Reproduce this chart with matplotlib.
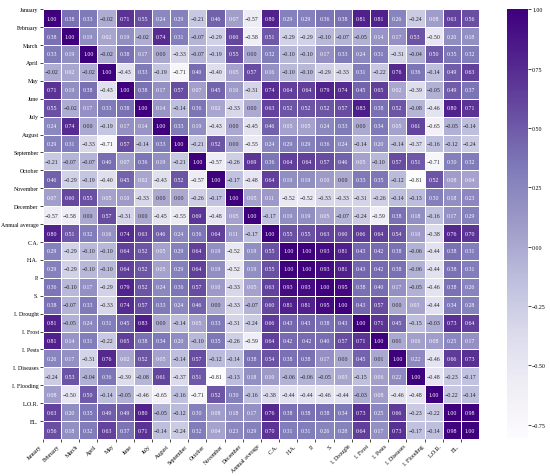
import numpy as np
import matplotlib
matplotlib.use("Agg")
import matplotlib.pyplot as plt
import seaborn as sns

# variable names (rows and columns)
labels = ["January", "February", "March", "April", "May", "June", "July",
          "August", "September", "October", "November", "December",
          "Annual average", "C.A.", "H.A.", "P.", "S.", "I. Drought",
          "I. Frost", "I. Pests", "I. Diseases", "I. Flooding", "L.O.R.", "EL."]

# correlation matrix, one list per row
corr_rows = [
    [1.00, 0.38, 0.33, -0.02, 0.71, 0.55, 0.24, 0.29, -0.21, 0.46, 0.07, -0.57, 0.80, 0.29, 0.29, 0.36, 0.38, 0.81, 0.81, 0.26, -0.24, 0.08, 0.63, 0.56],
    [0.38, 1.00, 0.19, 0.02, 0.19, -0.02, 0.74, 0.31, -0.07, -0.29, 0.60, -0.58, 0.51, -0.29, -0.29, -0.10, -0.07, -0.05, 0.14, 0.17, 0.53, -0.50, 0.20, 0.18],
    [0.33, 0.19, 1.00, -0.02, 0.38, 0.17, 0.00, -0.33, -0.07, -0.19, 0.55, 0.00, 0.32, -0.10, -0.10, 0.17, 0.33, 0.24, 0.31, -0.31, -0.04, 0.50, 0.35, 0.32],
    [-0.02, 0.02, -0.02, 1.00, -0.43, 0.33, -0.19, -0.71, 0.40, -0.40, 0.05, 0.57, 0.16, -0.10, -0.10, -0.29, -0.33, 0.31, -0.22, 0.76, 0.36, -0.14, 0.49, 0.63],
    [0.71, 0.19, 0.38, -0.43, 1.00, 0.38, 0.17, 0.57, 0.07, 0.45, 0.10, -0.31, 0.74, 0.64, 0.64, 0.79, 0.74, 0.45, 0.65, 0.02, -0.39, -0.05, 0.49, 0.37],
    [0.55, -0.02, 0.17, 0.33, 0.38, 1.00, 0.14, -0.14, 0.36, 0.02, -0.33, 0.00, 0.63, 0.52, 0.52, 0.52, 0.57, 0.83, 0.38, 0.52, -0.08, -0.46, 0.80, 0.71],
    [0.24, 0.74, 0.00, -0.19, 0.17, 0.14, 1.00, 0.33, 0.19, -0.43, 0.00, -0.45, 0.46, 0.05, 0.05, 0.24, 0.33, 0.00, 0.34, 0.05, 0.61, -0.65, -0.05, -0.14],
    [0.29, 0.31, -0.33, -0.71, 0.57, -0.14, 0.33, 1.00, -0.21, 0.52, 0.00, -0.55, 0.24, 0.29, 0.29, 0.36, 0.24, -0.14, 0.20, -0.14, -0.37, -0.16, -0.12, -0.24],
    [-0.21, -0.07, -0.07, 0.40, 0.07, 0.36, 0.19, -0.21, 1.00, -0.57, -0.26, 0.69, 0.36, 0.64, 0.64, 0.57, 0.46, 0.05, -0.10, 0.57, 0.51, -0.71, 0.30, 0.32],
    [0.46, -0.29, -0.19, -0.40, 0.45, 0.02, -0.43, 0.52, -0.57, 1.00, -0.17, -0.48, 0.64, 0.19, 0.19, 0.10, 0.00, 0.33, 0.35, -0.12, -0.81, 0.52, 0.08, 0.04],
    [0.07, 0.60, 0.55, 0.05, 0.10, -0.33, 0.00, 0.00, -0.26, -0.17, 1.00, 0.05, 0.11, -0.52, -0.52, -0.33, -0.33, -0.31, -0.26, -0.14, -0.13, 0.30, 0.18, 0.23],
    [-0.57, -0.58, 0.00, 0.57, -0.31, 0.00, -0.45, -0.55, 0.69, -0.48, 0.05, 1.00, -0.17, 0.19, 0.19, 0.05, -0.07, -0.24, -0.59, 0.38, 0.18, -0.16, 0.17, 0.29],
    [0.80, 0.51, 0.32, 0.16, 0.74, 0.63, 0.46, 0.24, 0.36, 0.64, 0.11, -0.17, 1.00, 0.55, 0.55, 0.63, 0.60, 0.66, 0.64, 0.54, 0.10, -0.38, 0.76, 0.70],
    [0.29, -0.29, -0.10, -0.10, 0.64, 0.52, 0.05, 0.29, 0.64, 0.19, -0.52, 0.19, 0.55, 1.00, 1.00, 0.93, 0.81, 0.43, 0.42, 0.38, -0.06, -0.44, 0.38, 0.31],
    [0.29, -0.29, -0.10, -0.10, 0.64, 0.52, 0.05, 0.29, 0.64, 0.19, -0.52, 0.19, 0.55, 1.00, 1.00, 0.93, 0.81, 0.43, 0.42, 0.38, -0.06, -0.44, 0.38, 0.31],
    [0.36, -0.10, 0.17, -0.29, 0.79, 0.52, 0.24, 0.36, 0.57, 0.10, -0.33, 0.05, 0.63, 0.93, 0.93, 1.00, 0.95, 0.38, 0.40, 0.17, -0.05, -0.46, 0.38, 0.26],
    [0.38, -0.07, 0.33, -0.33, 0.74, 0.57, 0.33, 0.24, 0.46, 0.00, -0.33, -0.07, 0.60, 0.81, 0.81, 0.95, 1.00, 0.43, 0.57, 0.00, 0.03, -0.44, 0.34, 0.28],
    [0.81, -0.05, 0.24, 0.31, 0.45, 0.83, 0.00, -0.14, 0.05, 0.33, -0.31, -0.24, 0.66, 0.43, 0.43, 0.38, 0.43, 1.00, 0.71, 0.45, -0.15, -0.03, 0.73, 0.64],
    [0.81, 0.14, 0.31, -0.22, 0.65, 0.38, 0.34, 0.20, -0.10, 0.35, -0.26, -0.59, 0.64, 0.42, 0.42, 0.40, 0.57, 0.71, 1.00, 0.01, 0.06, 0.08, 0.25, 0.17],
    [0.26, 0.17, -0.31, 0.76, 0.02, 0.52, 0.05, -0.14, 0.57, -0.12, -0.14, 0.38, 0.54, 0.38, 0.38, 0.17, 0.00, 0.45, 0.01, 1.00, 0.22, -0.46, 0.66, 0.73],
    [-0.24, 0.53, -0.04, 0.36, -0.39, -0.08, 0.61, -0.37, 0.51, -0.81, -0.13, 0.18, 0.10, -0.06, -0.06, -0.05, 0.03, -0.15, 0.06, 0.22, 1.00, -0.48, -0.23, -0.17],
    [0.08, -0.50, 0.50, -0.14, -0.05, -0.46, -0.65, -0.16, -0.71, 0.52, 0.30, -0.16, -0.38, -0.44, -0.44, -0.46, -0.44, -0.03, 0.08, -0.46, -0.48, 1.00, -0.22, -0.14],
    [0.63, 0.20, 0.35, 0.49, 0.49, 0.80, -0.05, -0.12, 0.30, 0.08, 0.18, 0.17, 0.76, 0.38, 0.38, 0.38, 0.34, 0.73, 0.25, 0.66, -0.23, -0.22, 1.00, 0.98],
    [0.56, 0.18, 0.32, 0.63, 0.37, 0.71, -0.14, -0.24, 0.32, 0.04, 0.23, 0.29, 0.70, 0.31, 0.31, 0.26, 0.28, 0.64, 0.17, 0.73, -0.17, -0.14, 0.98, 1.00],
]

corr = np.array(corr_rows)
n = len(labels)

plt.rcParams['font.family'] = ['Liberation Serif', 'DejaVu Serif']

# text for each cell, with a real minus sign
annot = np.array([[f"{v:.2f}".replace("-", "\u2212") for v in row] for row in corr])

fig = plt.figure(figsize=(5.5, 4.77), dpi=100)
ax = fig.add_axes([0.078, 0.0776, 0.793, 0.901])
cax = fig.add_axes([0.922, 0.0776, 0.038, 0.901])

sns.heatmap(corr, ax=ax, cbar_ax=cax, cmap="Purples", annot=annot, fmt="",
            annot_kws={"size": 4.2}, linewidths=0.5, linecolor="white")

# labels sit on the cell edges, as in the original
ax.set_xticks(np.arange(n))
ax.set_xticklabels(labels, rotation=45, ha="right", fontsize=4.2)
ax.set_yticks(np.arange(n))
ax.set_yticklabels(labels, rotation=0, fontsize=4.2)
ax.tick_params(length=2, width=0.5, pad=1)

cax.set_yticks([-0.75, -0.5, -0.25, 0, 0.25, 0.5, 0.75, 1.0])
cax.set_yticklabels([f"{t:.2f}".replace("-", "\u2212") for t in [-0.75, -0.5, -0.25, 0, 0.25, 0.5, 0.75, 1.0]])
cax.tick_params(labelsize=4.2, length=2, width=0.5, pad=1)

fig.savefig("out.png", dpi=100)
